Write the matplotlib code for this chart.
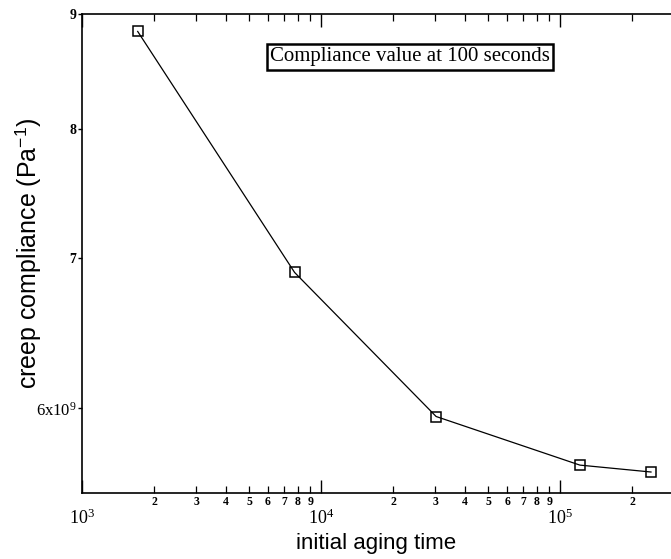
import numpy as np
import matplotlib
matplotlib.use("Agg")
from matplotlib import pyplot as plt
from matplotlib.ticker import LogLocator, FixedLocator, FuncFormatter, NullFormatter

# data
aging_time = [1.71e3, 7.75e3, 3.03e4, 1.21e5, 2.40e5]
compliance = [8.84e9, 6.90e9, 5.95e9, 5.66e9, 5.62e9]

y_ticks = [6e9, 7e9, 8e9, 9e9]
y_tick_labels = ["6x10$^9$", "7", "8", "9"]
note_text = "Compliance value at 100 seconds"

plt.rcParams["mathtext.fontset"] = "custom"
plt.rcParams["mathtext.rm"] = "Liberation Serif"
plt.rcParams["mathtext.it"] = "Liberation Serif:italic"
plt.rcParams["mathtext.sf"] = "Liberation Sans"

fig = plt.figure(figsize=(6.71, 5.59), dpi=100)
ax = fig.add_axes([82 / 671, 1 - 493 / 559, 1 - 82 / 671, (493 - 14) / 559])

ax.plot(aging_time, compliance, color="black", linewidth=0.9,
        marker="s", markersize=7.5, markerfacecolor="none",
        markeredgecolor="black", markeredgewidth=1.1)

ax.set_xscale("log")
ax.set_yscale("log")
ax.set_xlim(1e3, 2.91e5)
ax.set_ylim(5.5e9, 9.0e9)

# x ticks: decades + labelled minor ticks
ax.xaxis.set_major_locator(LogLocator(base=10, numticks=10))
ax.xaxis.set_minor_locator(LogLocator(base=10, subs=np.arange(2, 10), numticks=20))
ax.xaxis.set_major_formatter(FuncFormatter(lambda v, p: "$10^{%d}$" % round(np.log10(v))))
ax.xaxis.set_minor_formatter(FuncFormatter(lambda v, p: "%d" % round(v / 10 ** np.floor(np.log10(v) + 1e-9))))

ax.yaxis.set_major_locator(FixedLocator(y_ticks))
ax.yaxis.set_minor_locator(FixedLocator([]))
ax.set_yticklabels(y_tick_labels)
ax.yaxis.set_minor_formatter(NullFormatter())

ax.tick_params(axis="x", which="major", direction="in", length=9.5, width=1.0,
               top=True, pad=11, labelsize=13)
ax.tick_params(axis="x", which="minor", direction="in", length=5, width=0.9,
               top=True, pad=2, labelsize=8.5)
ax.tick_params(axis="y", which="major", direction="out", length=3, width=1.0,
               pad=1, labelsize=10)
for lab in ax.get_xticklabels(which="both") + ax.get_yticklabels():
    lab.set_family("Liberation Serif")
for lab in ax.get_xticklabels(which="minor"):
    lab.set_weight("bold")
for lab in ax.get_yticklabels():
    lab.set_weight("bold")
ax.get_yticklabels()[0].set_weight("normal")
ax.get_yticklabels()[0].set_fontsize(12)

ax.spines["right"].set_visible(False)
for s in ["left", "bottom", "top"]:
    ax.spines[s].set_linewidth(1.2)

ax.set_xlabel("initial aging time", family="Liberation Sans", fontsize=16)
ax.xaxis.set_label_coords(0.5, -0.083)
ax.set_ylabel("creep compliance (Pa$^{\\mathsf{-1}}$)", family="Liberation Sans", fontsize=18)
ax.yaxis.set_label_coords(-0.066, 0.5)

ax.text(410 / 671 * 671 / 589 - 82 / 589, 1 - (57 - 14) / 479, note_text,
        transform=ax.transAxes, ha="center", va="center",
        family="Liberation Serif", fontsize=15,
        bbox=dict(boxstyle="square,pad=0.15", facecolor="white",
                  edgecolor="black", linewidth=1.8))

fig.savefig("out.png", dpi=100)
